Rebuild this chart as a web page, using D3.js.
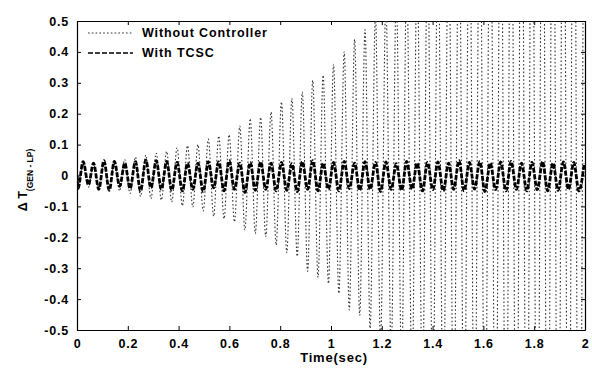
<!DOCTYPE html>
<html><head><meta charset="utf-8">
<script src="https://cdn.jsdelivr.net/npm/d3@7"></script>
<style>
html,body{margin:0;padding:0;background:#fff;}
text{font-family:"Liberation Sans",Arial,sans-serif;font-weight:bold;fill:#000;}
</style></head>
<body><svg id="c" width="592" height="373"></svg>
<script>
// Times (s) of the oscillation extrema (first entry = start)
const time = [0,0.004,0.024,0.045,0.065,0.086,0.106,0.127,0.147,0.168,0.188,
0.209,0.230,0.250,0.271,0.291,0.312,0.332,0.353,0.373,0.394,
0.415,0.435,0.456,0.476,0.497,0.517,0.538,0.558,0.579,0.599,
0.620,0.641,0.661,0.682,0.702,0.723,0.743,0.764,0.784,0.805,
0.826,0.846,0.867,0.887,0.908,0.928,0.949,0.969,0.990,1.010,
1.031,1.052,1.072,1.093,1.113,1.134,1.154,1.175,1.195,1.216,
1.237,1.257,1.278,1.298,1.319,1.339,1.360,1.380,1.401,1.421,
1.442,1.463,1.483,1.504,1.524,1.545,1.565,1.586,1.606,1.627,
1.648,1.668,1.689,1.709,1.730,1.750,1.771,1.791,1.812,1.833,
1.853,1.874,1.894,1.915,1.935,1.956,1.976,1.997];

// Without Controller (dotted): growing oscillation, clipped by the axes after ~1.15 s
const withoutController = [0,-0.035,0.036,-0.038,0.038,-0.040,0.042,-0.045,0.046,-0.050,0.052,
-0.058,0.060,-0.068,0.066,-0.075,0.072,-0.080,0.078,-0.086,0.090,
-0.098,0.097,-0.102,0.100,-0.115,0.118,-0.132,0.128,-0.140,0.132,
-0.150,0.160,-0.176,0.184,-0.188,0.188,-0.198,0.205,-0.225,0.238,
-0.250,0.250,-0.262,0.270,-0.310,0.308,-0.330,0.325,-0.350,0.360,
-0.382,0.400,-0.435,0.440,-0.452,0.472,-0.495,0.52,-0.54,0.56,
-0.58,0.60,-0.63,0.65,-0.68,0.70,-0.73,0.75,-0.78,0.80,
-0.83,0.86,-0.89,0.92,-0.95,0.98,-1.01,1.04,-1.07,1.10,
-1.13,1.16,-1.19,1.22,-1.25,1.28,-1.31,1.34,-1.37,1.40,
-1.43,1.46,-1.49,1.52,-1.55,1.58,-1.61,1.64];

// With TCSC (dashed): small, sustained oscillation
const withTCSC = [0,-0.042,0.045,-0.030,0.040,-0.045,0.048,-0.048,0.046,-0.035,0.040,
-0.042,0.045,-0.050,0.050,-0.040,0.048,-0.045,0.046,-0.048,0.042,
-0.050,0.040,-0.045,0.040,-0.052,0.045,-0.040,0.044,-0.050,0.048,
-0.045,0.040,-0.055,0.042,-0.048,0.044,-0.045,0.040,-0.050,0.042,
-0.048,0.038,-0.052,0.045,-0.045,0.048,-0.050,0.040,-0.045,0.042,
-0.050,0.046,-0.042,0.040,-0.048,0.045,-0.045,0.042,-0.052,0.044,
-0.045,0.038,-0.048,0.046,-0.044,0.040,-0.050,0.042,-0.046,0.044,
-0.050,0.040,-0.045,0.048,-0.050,0.042,-0.044,0.045,-0.052,0.040,
-0.046,0.044,-0.050,0.046,-0.045,0.040,-0.050,0.042,-0.046,0.045,
-0.050,0.040,-0.048,0.044,-0.045,0.042,-0.050,0.040];

const xTicks = [0,0.2,0.4,0.6,0.8,1,1.2,1.4,1.6,1.8,2];
const yTicks = [-0.5,-0.4,-0.3,-0.2,-0.1,0,0.1,0.2,0.3,0.4,0.5];
const seriesNames = ["Without Controller","With TCSC"];

const svg = d3.select("#c");
const L=77,R=585,T=21,B=330;
const x = d3.scaleLinear().domain([0,2]).range([L,R]);
const y = d3.scaleLinear().domain([-0.5,0.5]).range([B,T]);

svg.append("defs").append("clipPath").attr("id","clip")
  .append("rect").attr("x",L).attr("y",T).attr("width",R-L).attr("height",B-T);

const fmt = d => d===0 ? "0" : String(d);

// axes (ticks inward)
const gx = svg.append("g").attr("transform",`translate(0,${B})`)
  .call(d3.axisBottom(x).tickValues(xTicks).tickFormat(fmt).tickSizeInner(-4).tickSizeOuter(0).tickPadding(9));
const gy = svg.append("g").attr("transform",`translate(${L},0)`)
  .call(d3.axisLeft(y).tickValues(yTicks).tickFormat(fmt).tickSizeInner(-4).tickSizeOuter(0).tickPadding(8));
const gt = svg.append("g").attr("transform",`translate(0,${T})`)
  .call(d3.axisTop(x).tickValues(xTicks).tickFormat("").tickSizeInner(-4).tickSizeOuter(0));
const gr = svg.append("g").attr("transform",`translate(${R},0)`)
  .call(d3.axisRight(y).tickValues(yTicks).tickFormat("").tickSizeInner(-4).tickSizeOuter(0));
[gx,gy,gt,gr].forEach(g=>{
  g.select(".domain").attr("stroke","#000").attr("stroke-width",1.2);
  g.selectAll(".tick line").attr("stroke","#000");
  g.selectAll("text").style("font-size","12.5px").style("letter-spacing","0.8px")
   .style("font-family","'Liberation Sans',Arial,sans-serif").style("font-weight","bold").attr("fill","#000");
});

const line = (vals) => d3.line().curve(d3.curveMonotoneX)
  .x((d,i)=>x(time[i])).y(d=>y(d))(vals);

const plot = svg.append("g").attr("clip-path","url(#clip)");
plot.append("path").attr("d",line(withoutController))
  .attr("fill","none").attr("stroke","#333").attr("stroke-width",1.1)
  .attr("stroke-dasharray","1.6,2.2");
plot.append("path").attr("d",line(withTCSC))
  .attr("fill","none").attr("stroke","#000").attr("stroke-width",2.8)
  .attr("stroke-dasharray","5,1.5");

// legend
const leg = svg.append("g");
leg.append("line").attr("x1",88).attr("x2",133).attr("y1",33).attr("y2",33)
  .attr("stroke","#333").attr("stroke-width",1.1).attr("stroke-dasharray","1.6,2.2");
leg.append("line").attr("x1",88).attr("x2",133).attr("y1",53).attr("y2",53)
  .attr("stroke","#000").attr("stroke-width",1.6).attr("stroke-dasharray","5,2");
leg.selectAll("text.lg").data(seriesNames).enter().append("text")
  .attr("x",142).attr("y",(d,i)=>37+i*20)
  .style("font-size","12.5px").style("letter-spacing","0.9px").text(d=>d);

// axis labels
svg.append("text").attr("x",(L+R)/2+3).attr("y",362).attr("text-anchor","middle")
  .style("font-size","13px").style("letter-spacing","0.8px").text("Time(sec)");
const yl = svg.append("text").attr("transform","translate(27,180) rotate(-90)")
  .attr("text-anchor","middle").style("font-size","12.5px");
yl.append("tspan").text("\u0394 T");
yl.append("tspan").attr("dy",6).style("font-size","8.5px").text("(GEN - LP)");
</script></body></html>
